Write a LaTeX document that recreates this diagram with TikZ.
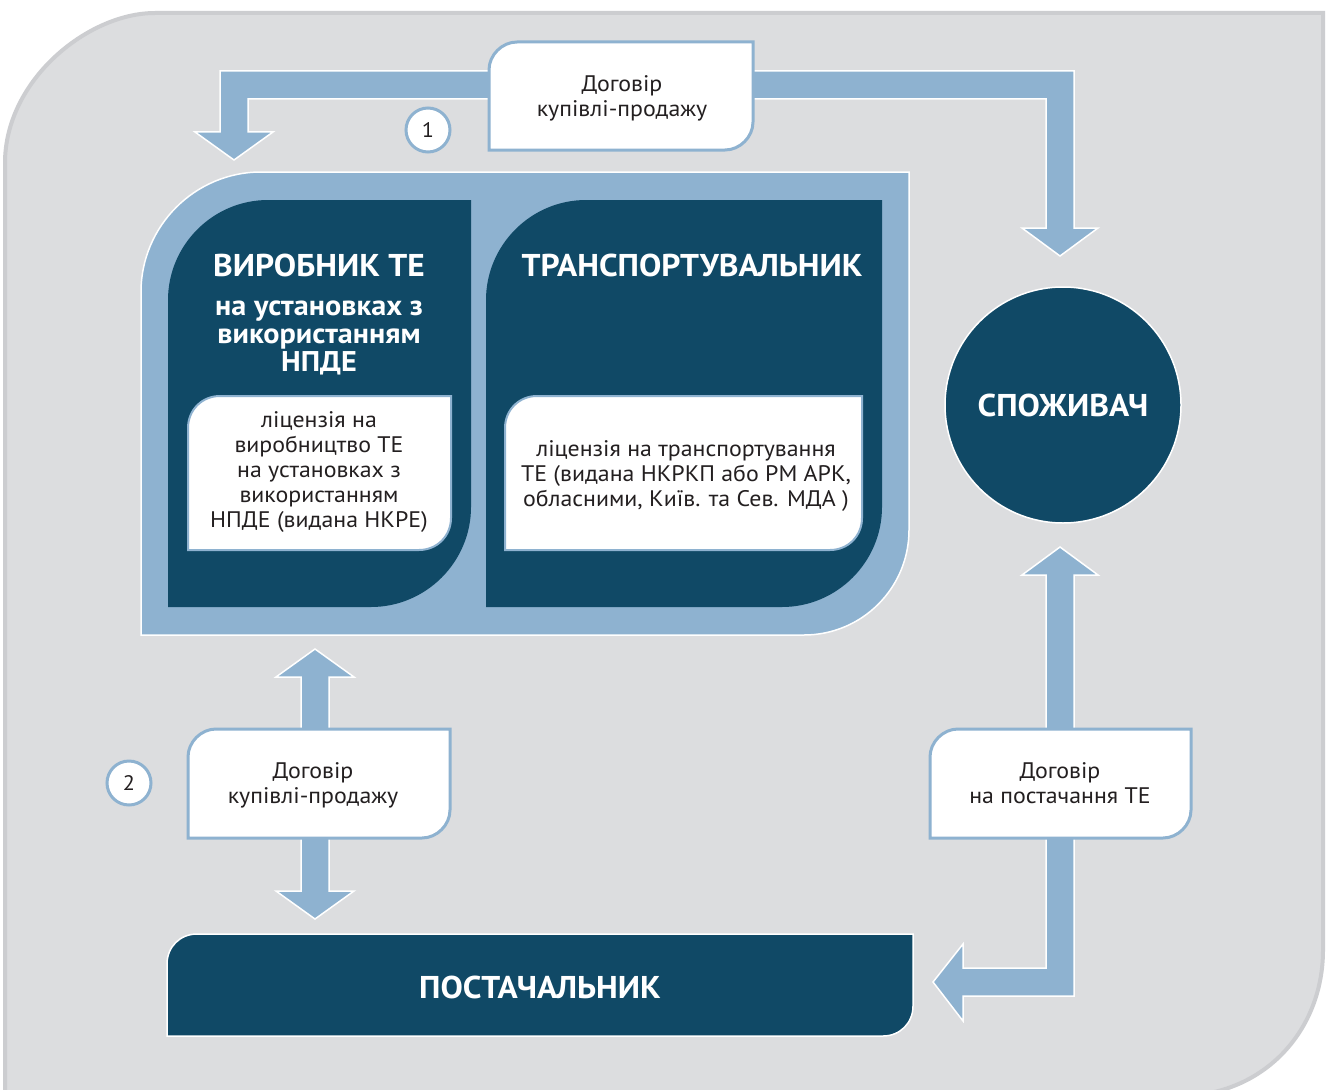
\documentclass[tikz,border=0pt]{standalone}
\usepackage{fontspec}
\setmainfont[FakeStretch=1.06]{PT Sans}
\definecolor{darkblue}{RGB}{16,73,102}
\definecolor{lightblue}{RGB}{142,178,208}
\definecolor{bggray}{RGB}{220,221,223}
\definecolor{bgedge}{RGB}{204,205,208}
\definecolor{ink}{RGB}{35,31,32}

\begin{document}
\begin{tikzpicture}[x=1pt,y=-1pt,
    big/.style={text=white,font=\fontsize{31.5}{34}\selectfont\bfseries},
    sub/.style={text=white,font=\fontsize{28.5}{28}\selectfont\bfseries,align=center},
    small/.style={text=ink,font=\fontsize{22.5}{25}\selectfont,align=center},
    card/.style={fill=white,draw=lightblue,line width=3pt},
    fat/.style={fill=lightblue,draw=white,line width=1.5pt},
    num/.style={circle,fill=white,draw=lightblue,line width=3pt,minimum size=44pt,inner sep=0pt,text=ink,font=\fontsize{21}{21}\selectfont}]

    \useasboundingbox (0,0) rectangle (1327,1089);
    \fill[white] (0,0) rectangle (1327,1089);

    % background
    \filldraw[fill=bggray,draw=bgedge,line width=4pt] (5,1096) -- (5,163) .. controls (5,80) and (88,13) .. (155,13) -- (1323,13) -- (1323,950) .. controls (1323,1030) and (1265,1094) .. (1183,1096) -- cycle;

    % arrow tips
    \coordinate (A) at (234,160);
    \coordinate (B) at (1060,256);
    \coordinate (C) at (315,649);
    \coordinate (D) at (315,919);
    \coordinate (E) at (1060,547);
    \coordinate (F) at (933,982);

    % arrows
    \filldraw[fat] (A) -- (273,132) -- (248,132) -- (248,99) -- (1046,99) -- (1046,228) -- (1022,228) -- (B) -- (1098,228) -- (1074,228) -- (1074,71) -- (220,71) -- (220,132) -- (195,132) -- cycle;
    \filldraw[fat] (C) -- (354,677) -- (329,677) -- (329,891) -- (354,891) -- (D) -- (276,891) -- (301,891) -- (301,677) -- (276,677) -- cycle;
    \filldraw[fat] (E) -- (1098,575) -- (1074,575) -- (1074,996) -- (963,996) -- (963,1021) -- (F) -- (963,944) -- (963,968) -- (1046,968) -- (1046,575) -- (1022,575) -- cycle;

    % outer frame
    \filldraw[fill=lightblue,draw=white,line width=1.5pt] (141,635) -- (141,292) .. controls (141,226) and (195,172) .. (261,172) -- (909,172) -- (909,530) .. controls (909,588) and (862,635) .. (804,635) -- cycle;

    % panels
    \fill[darkblue] (168,607) -- (168,300) .. controls (168,245) and (213,200) .. (268,200) -- (471,200) -- (471,507) .. controls (471,562) and (426,607) .. (371,607) -- cycle;
    \fill[darkblue] (486,607) -- (486,300) .. controls (486,245) and (531,200) .. (586,200) -- (882,200) -- (882,507) .. controls (882,562) and (837,607) .. (782,607) -- cycle;

    % licence cards
    \filldraw[card,line width=2pt] (188,550) -- (188,428) .. controls (188,410) and (202,396) .. (220,396) -- (451,396) -- (451,518) .. controls (451,536) and (437,550) .. (419,550) -- cycle;
    \filldraw[card,line width=2pt] (505,550) -- (505,428) .. controls (505,410) and (519,396) .. (537,396) -- (862,396) -- (862,518) .. controls (862,536) and (848,550) .. (830,550) -- cycle;

    % contract cards
    \filldraw[card] (489,150) -- (489,70) .. controls (489,55) and (502,42) .. (517,42) -- (753,42) -- (753,122) .. controls (753,137) and (740,150) .. (725,150) -- cycle;
    \filldraw[card] (188,838) -- (188,757) .. controls (188,742) and (201,729) .. (216,729) -- (450,729) -- (450,810) .. controls (450,825) and (437,838) .. (422,838) -- cycle;
    \filldraw[card] (930,838) -- (930,757) .. controls (930,742) and (943,729) .. (958,729) -- (1191,729) -- (1191,810) .. controls (1191,825) and (1178,838) .. (1163,838) -- cycle;

    % supplier
    \filldraw[fill=darkblue,draw=white,line width=1.5pt] (167,1036) -- (167,964) .. controls (167,947) and (180,934) .. (197,934) -- (913,934) -- (913,1006) .. controls (913,1023) and (900,1036) .. (883,1036) -- cycle;

    % texts
    \node[big] (vyr) at (319,265) {ВИРОБНИК ТЕ};
    \node[sub] (vyrsub) at (319,338) {на установках з\\використанням\\НПДЕ};
    \node[small] (licL) at (319,472) {ліцензія на\\виробництво ТЕ\\на установках з\\використанням\\НПДЕ (видана НКРЕ)};

    \node[big] (trans) at (692,265) {ТРАНСПОРТУВАЛЬНИК};
    \node[small] (licR) at (686,476) {ліцензія на транспортування\\ТЕ (видана НКРКП або РМ АРК,\\обласними, Київ. та Сев. МДА )};

    \node[circle,fill=darkblue,draw=white,line width=1.5pt,minimum size=236pt,inner sep=0pt,big] (spozh) at (1063,405) {СПОЖИВАЧ};

    \node[small] (dog1) at (622,98) {Договір\\купівлі-продажу};
    \node[small] (dog2) at (313,785) {Договір\\купівлі-продажу};
    \node[small] (dog3) at (1060,783) {Договір\\на постачання ТЕ};

    \node[big] (post) at (540,987) {ПОСТАЧАЛЬНИК};

    \node[num] (n1) at (428,130) {1};
    \node[num] (n2) at (129,783) {2};
\end{tikzpicture}
\end{document}
